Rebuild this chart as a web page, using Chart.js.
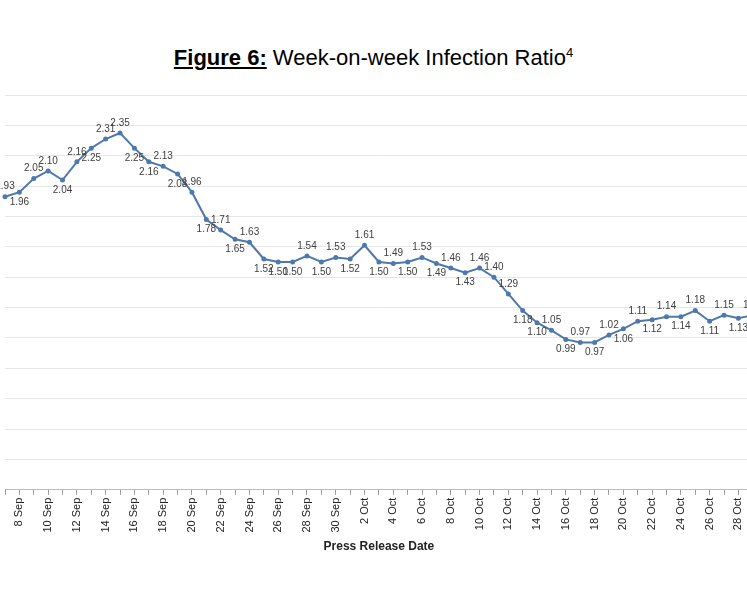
<!DOCTYPE html>
<html>
<head>
<meta charset="utf-8">
<script src="https://cdn.jsdelivr.net/npm/chart.js@4.4.0/dist/chart.umd.min.js"></script>
<style>
  body { margin: 0; background: #fff; overflow: hidden; width: 747px; height: 598px; position: relative; }
  #title { position: absolute; top: 45px; left: 0; width: 747px; text-align: center; font-family: "Liberation Sans", Arial, sans-serif; font-size: 22px; color: #000; }
  #title b { text-decoration: underline; }
  #wrap { position: absolute; left: -1px; top: 80px; width: 770px; height: 478px; }
</style>
</head>
<body>
<div id="title"><b>Figure 6:</b> Week-on-week Infection Ratio<sup style="font-size:13px">4</sup></div>
<div id="wrap"><canvas id="grafica"></canvas></div>
<script>
// dates from 7 Sep to 29 Oct
const fechas = [
  '7 Sep','8 Sep','9 Sep','10 Sep','11 Sep','12 Sep','13 Sep','14 Sep','15 Sep','16 Sep',
  '17 Sep','18 Sep','19 Sep','20 Sep','21 Sep','22 Sep','23 Sep','24 Sep','25 Sep','26 Sep',
  '27 Sep','28 Sep','29 Sep','30 Sep','1 Oct','2 Oct','3 Oct','4 Oct','5 Oct','6 Oct',
  '7 Oct','8 Oct','9 Oct','10 Oct','11 Oct','12 Oct','13 Oct','14 Oct','15 Oct','16 Oct',
  '17 Oct','18 Oct','19 Oct','20 Oct','21 Oct','22 Oct','23 Oct','24 Oct','25 Oct','26 Oct',
  '27 Oct','28 Oct','29 Oct'
];
const ratio = [
  1.93,1.96,2.05,2.10,2.04,2.16,2.25,2.31,2.35,2.25,
  2.16,2.13,2.08,1.96,1.78,1.71,1.65,1.63,1.52,1.50,
  1.50,1.54,1.50,1.53,1.52,1.61,1.50,1.49,1.50,1.53,
  1.49,1.46,1.43,1.46,1.40,1.29,1.18,1.10,1.05,0.99,
  0.97,0.97,1.02,1.06,1.11,1.12,1.14,1.14,1.18,1.11,
  1.15,1.13,1.15
];
// a = label above the point, b = below
const lado = 'abaababaab' + 'bababababb' + 'bababababa' + 'babaaabbab' + 'ababababab' + 'aba';

const etiquetas = {
  id: 'etiquetas',
  afterDatasetsDraw(chart) {
    const c = chart.ctx;
    const pts = chart.getDatasetMeta(0).data;
    c.save();
    c.font = '10px "Liberation Sans", Arial, sans-serif';
    c.fillStyle = '#404040';
    c.textAlign = 'center';
    pts.forEach((p, i) => {
      const arriba = lado[i] === 'a';
      c.textBaseline = arriba ? 'bottom' : 'top';
      c.fillText(ratio[i].toFixed(2), p.x, arriba ? p.y - 5 : p.y + 5);
    });
    c.restore();
  }
};

new Chart(document.getElementById('grafica'), {
  type: 'line',
  data: {
    labels: fechas,
    datasets: [{
      data: ratio,
      borderColor: '#4f79ac',
      backgroundColor: '#4f79ac',
      borderWidth: 2,
      pointRadius: 1.5,
      tension: 0
    }]
  },
  options: {
    animation: false,
    responsive: true,
    maintainAspectRatio: false,
    layout: { padding: { top: 15, left: 2, right: 0 } },
    plugins: { legend: { display: false }, tooltip: { enabled: false } },
    scales: {
      y: {
        min: 0, max: 2.6,
        ticks: { display: false, stepSize: 0.2 },
        grid: { color: '#e6e6e6', drawTicks: false },
        border: { display: false }
      },
      x: {
        offset: false,
        grid: { drawOnChartArea: false, color: '#999', tickLength: 5 },
        border: { color: '#bbb' },
        ticks: {
          autoSkip: false, maxRotation: 90, minRotation: 90,
          font: { size: 11, family: '"Liberation Sans", Arial, sans-serif' },
          color: '#222',
          callback: (v, i) => (i % 2 === 1 ? fechas[i] : '')
        },
        title: {
          display: true, text: 'Press Release Date', color: '#222',
          font: { size: 12, weight: 'bold', family: '"Liberation Sans Narrow", "Liberation Sans", Arial, sans-serif' }
        }
      }
    }
  },
  plugins: [etiquetas]
});
</script>
</body>
</html>
